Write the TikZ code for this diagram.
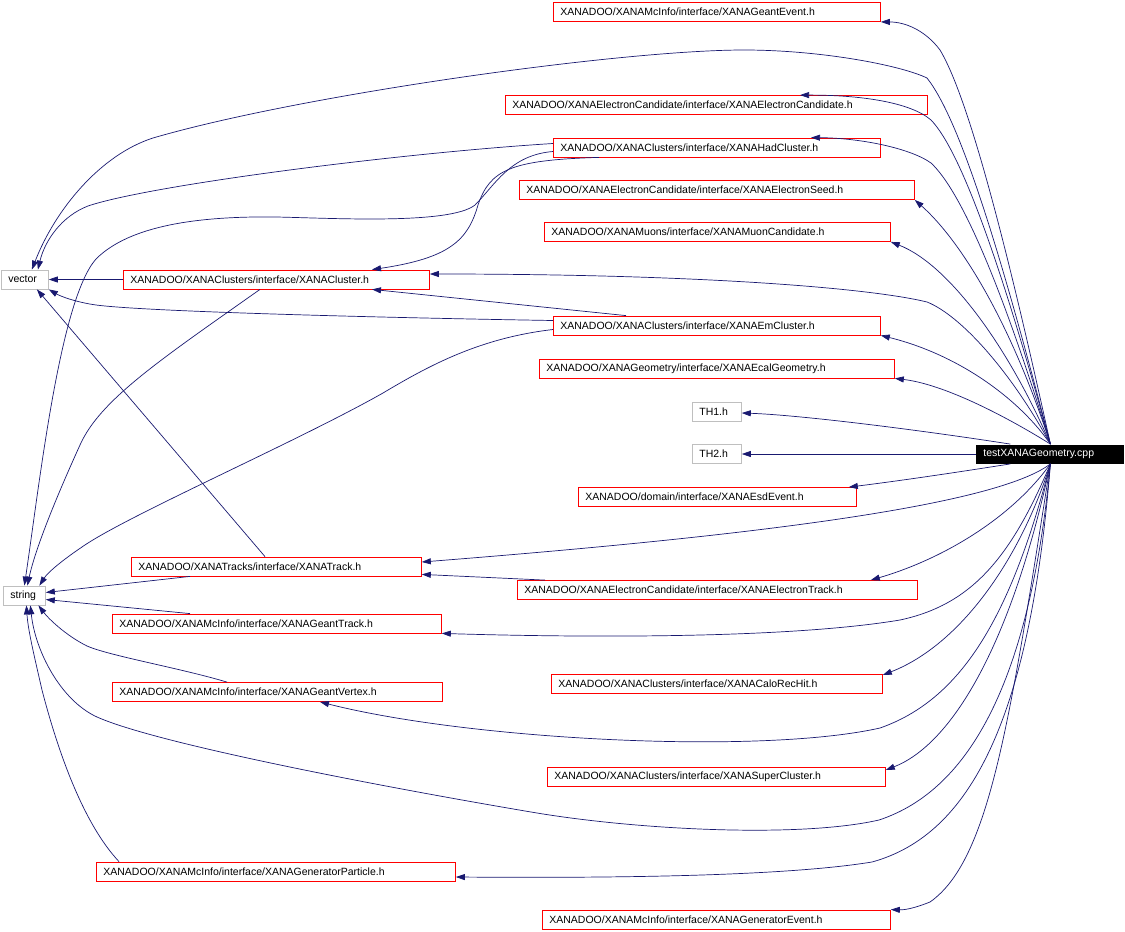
\documentclass[tikz,border=0pt]{standalone}
\usepackage{fontspec}
\setmainfont{Liberation Sans}
\usepackage{tikz}
\usetikzlibrary{arrows.meta}
\definecolor{edgeblue}{RGB}{25,25,112}
\definecolor{boxgray}{RGB}{191,191,191}

\begin{document}
\begin{tikzpicture}[x = 1pt, y = -1pt,
        every node/.style = {font = \fontsize{10.5}{12}\selectfont, minimum height = 19pt, inner ysep = 0pt, inner xsep = 7pt, align = left, anchor = west, line width = 0.8pt},
        hdr/.style = {draw = red, text width = #1},
        sys/.style = {draw = boxgray, text width = #1},
        dep/.style = {draw = edgeblue, line width = 0.7pt, -{Triangle[length = 9pt, width = 6pt]}}]
            \useasboundingbox (0,0) rectangle (1125,932);
            \node[hdr = 313pt] (gevent) at (553,12) {XANADOO/XANAMcInfo/interface/XANAGeantEvent.h};
            \node[hdr = 408pt] (ecand) at (505,105) {XANADOO/XANAElectronCandidate/interface/XANAElectronCandidate.h};
            \node[hdr = 313pt] (hadcl) at (553,147.5) {XANADOO/XANAClusters/interface/XANAHadCluster.h};
            \node[hdr = 381pt] (eseed) at (519,190) {XANADOO/XANAElectronCandidate/interface/XANAElectronSeed.h};
            \node[hdr = 332pt] (muon) at (544,232) {XANADOO/XANAMuons/interface/XANAMuonCandidate.h};
            \node[hdr = 292pt] (clus) at (123,279.5) {XANADOO/XANAClusters/interface/XANACluster.h};
            \node[sys = 33pt] (vec) at (1,279.5) {vector};
            \node[hdr = 313pt] (emcl) at (553,325.5) {XANADOO/XANAClusters/interface/XANAEmCluster.h};
            \node[hdr = 341pt] (ecal) at (539,368.5) {XANADOO/XANAGeometry/interface/XANAEcalGeometry.h};
            \node[sys = 35pt] (thone) at (692,411.5) {TH1.h};
            \node[sys = 35pt] (thtwo) at (692,454) {TH2.h};
            \node[text width = 134pt, fill = black, text = white] (cpp) at (976,454) {testXANAGeometry.cpp};
            \node[hdr = 264pt] (esd) at (578,497) {XANADOO/domain/interface/XANAEsdEvent.h};
            \node[hdr = 276pt] (track) at (131,566.5) {XANADOO/XANATracks/interface/XANATrack.h};
            \node[sys = 28pt] (str) at (3,595.5) {string};
            \node[hdr = 386pt] (etrack) at (517,590) {XANADOO/XANAElectronCandidate/interface/XANAElectronTrack.h};
            \node[hdr = 315pt] (gtrack) at (112,623.5) {XANADOO/XANAMcInfo/interface/XANAGeantTrack.h};
            \node[hdr = 317pt] (calo) at (551,683.5) {XANADOO/XANAClusters/interface/XANACaloRecHit.h};
            \node[hdr = 316pt] (gvertex) at (112,692) {XANADOO/XANAMcInfo/interface/XANAGeantVertex.h};
            \node[hdr = 324pt] (super) at (547,776.5) {XANADOO/XANAClusters/interface/XANASuperCluster.h};
            \node[hdr = 345pt] (genpart) at (96,871.5) {XANADOO/XANAMcInfo/interface/XANAGeneratorParticle.h};
            \node[hdr = 334pt] (genev) at (542,919.5) {XANADOO/XANAMcInfo/interface/XANAGeneratorEvent.h};

            \draw[dep] (cpp.north) .. controls (1010,260) and (970,100) .. (940,50) .. controls (925,30) and (905,22) .. (gevent.south east);
            \draw[dep] (cpp.north) .. controls (1000,260) and (960,150) .. (931,120) .. controls (910,102) and (860,95) .. ([xshift = 295pt]ecand.north west);
            \draw[dep] (cpp.north) .. controls (1000,280) and (960,190) .. (931,163) .. controls (910,148) and (860,138) .. ([xshift = 258pt]hadcl.north west);
            \draw[dep] (cpp.north) .. controls (1010,320) and (960,240) .. (eseed.south east);
            \draw[dep] (cpp.north) .. controls (1010,350) and (950,265) .. (muon.south east);
            \draw[dep] (cpp.north) .. controls (1010,370) and (960,315) .. (927,302) .. controls (870,288) and (700,274) .. ([yshift = 5.5pt]clus.east);
            \draw[dep] (cpp.north) .. controls (1020,400) and (960,355) .. (emcl.south east);
            \draw[dep] (cpp.north) .. controls (1020,425) and (950,385) .. (ecal.south east);
            \draw[dep] ([xshift = -40pt]cpp.north) .. controls (920,430) and (800,415) .. ([yshift = -1.5pt]thone.east);
            \draw[dep] (cpp.west) -- (thtwo.east);
            \draw[dep] ([xshift = -40pt]cpp.south) .. controls (940,475) and (890,482) .. ([xshift = -8pt]esd.north east);
            \draw[dep] (cpp.south) .. controls (990,510) and (700,540) .. ([yshift = 4.5pt]track.east);
            \draw[dep] (cpp.south) .. controls (1010,520) and (940,560) .. ([xshift = -47pt]etrack.north east);
            \draw[dep] (cpp.south) .. controls (1010,560) and (970,605) .. (900,620) .. controls (780,640) and (560,637) .. (gtrack.south east);
            \draw[dep] (cpp.south) .. controls (1020,560) and (960,645) .. ([yshift = 8.5pt]calo.east);
            \draw[dep] (cpp.south) .. controls (1010,620) and (960,700) .. (880,728) .. controls (760,755) and (470,740) .. ([xshift = 208pt]gvertex.south west);
            \draw[dep] (cpp.south) .. controls (1010,650) and (950,745) .. ([yshift = 6.5pt]super.east);
            \draw[dep] (cpp.south) .. controls (1030,680) and (970,790) .. (879,820) .. controls (800,838) and (640,830) .. (537,813) .. controls (400,790) and (160,745) .. (97,717) .. controls (60,700) and (35,650) .. ([xshift = 6pt]str.south);
            \draw[dep] (cpp.south) .. controls (1030,720) and (970,835) .. (872,862) .. controls (780,877) and (600,878) .. ([yshift = -5.5pt]genpart.east);
            \draw[dep] (cpp.south) .. controls (1010,720) and (990,860) .. (930,902) .. controls (915,908) and (905,910) .. (genev.north east);
            \draw[dep] (cpp.north) .. controls (1000,250) and (960,120) .. (927,78) .. controls (900,65) and (820,50) .. (744,50) .. controls (620,50) and (300,95) .. (153,138) .. controls (100,155) and (55,210) .. ([xshift = 7pt]vec.north);

            \draw[dep] ([yshift = 4pt]hadcl.west) .. controls (400,153) and (150,185) .. (88,206) .. controls (62,216) and (45,240) .. ([xshift = 13pt]vec.north);
            \draw[dep] ([yshift = -4pt]hadcl.west) .. controls (510,155) and (495,185) .. (475,205) .. controls (450,225) and (330,218) .. (276,217) .. controls (200,216) and (130,225) .. (96,259) .. controls (60,300) and (40,480) .. (str.north);
            \draw[dep] ([xshift = 46pt]hadcl.south west) .. controls (510,160) and (490,170) .. (478,205) .. controls (468,240) and (450,258) .. ([xshift = 249pt]clus.north west);
            \draw[dep] (clus.west) -- (vec.east);
            \draw[dep] ([xshift = 137pt]clus.south west) .. controls (160,360) and (100,400) .. (80,445) .. controls (55,500) and (35,550) .. ([xshift = 3pt]str.north);
            \draw[dep] ([yshift = 5pt]emcl.west) .. controls (400,318) and (150,312) .. (96,305) .. controls (75,302) and (60,296) .. (vec.south east);
            \draw[dep] ([xshift = 73pt]emcl.north west) -- ([xshift = 249pt]clus.south west);
            \draw[dep] ([yshift = -4pt]emcl.west) .. controls (480,338) and (430,365) .. (383,393) .. controls (300,440) and (140,510) .. (88,543) .. controls (65,558) and (48,572) .. ([xshift = 15pt]str.north);
            \draw[dep] ([xshift = 134pt]track.north west) -- ([xshift = 12pt]vec.south);
            \draw[dep] ([xshift = 59pt]track.south west) -- ([yshift = 3pt]str.east);
            \draw[dep] ([xshift = 28pt]etrack.north west) -- ([yshift = 2pt]track.south east);
            \draw[dep] ([xshift = 78pt]gtrack.north west) -- ([yshift = -4pt]str.east);
            \draw[dep] ([xshift = 115pt]gvertex.north west) .. controls (180,668) and (110,656) .. (87,646) .. controls (65,635) and (48,618) .. ([xshift = 14pt]str.south);
            \draw[dep] ([xshift = 23pt]genpart.north west) .. controls (80,820) and (55,740) .. (42,690) .. controls (34,655) and (28,630) .. ([xshift = 2pt]str.south);
        \end{tikzpicture}
\end{document}
